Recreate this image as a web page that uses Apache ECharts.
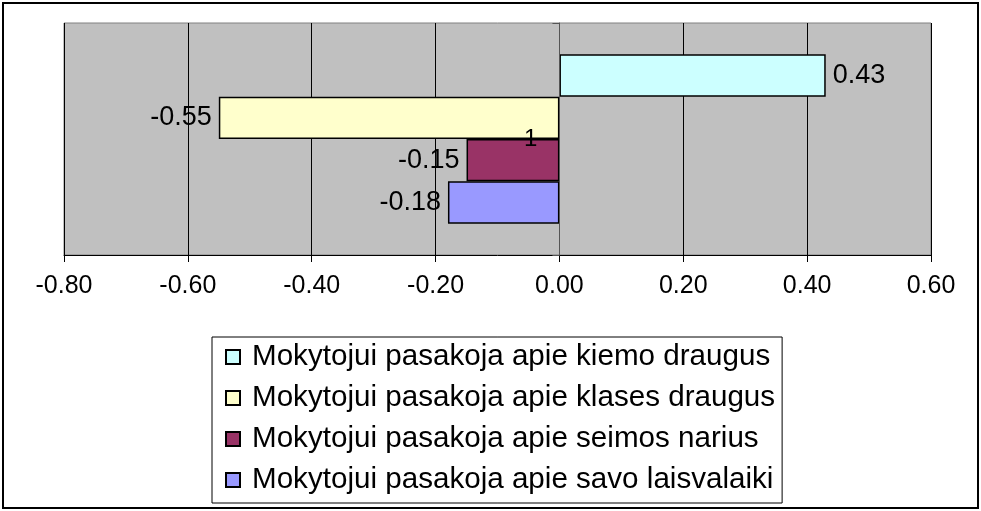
<!DOCTYPE html>
<html>
<head>
<meta charset="utf-8">
<script src="https://cdn.jsdelivr.net/npm/echarts@6/dist/echarts.min.js"></script>
<style>html,body{margin:0;padding:0;background:#fff}#c{width:981px;height:511px}</style>
</head>
<body>
<div id="c"></div>
<script>
const categories = ['1'];
const seriesNames = [
  'Mokytojui pasakoja apie kiemo draugus',
  'Mokytojui pasakoja apie klases draugus',
  'Mokytojui pasakoja apie seimos narius',
  'Mokytojui pasakoja apie savo laisvalaiki'
];
const seriesValues = [0.43, -0.55, -0.15, -0.18];
const seriesColors = ['#CCFFFF', '#FFFFCC', '#993366', '#9999FF'];
const xMin = -0.8, xMax = 0.6, xStep = 0.2;

const FONT = 'Liberation Sans, Arial, sans-serif';
const gridLeft = 64, gridRight = 50;
const plotW = 981 - gridLeft - gridRight;
const zeroOffset = -(plotW * (0 - xMin) / (xMax - xMin));

const chart = echarts.init(document.getElementById('c'), null, {renderer: 'canvas'});

const series = seriesNames.map((name, i) => ({
  name: name,
  type: 'bar',
  data: [seriesValues[i]],
  barGap: '0%',
  barCategoryGap: '27%',
  itemStyle: {color: seriesColors[i], borderColor: '#000', borderWidth: 1.5},
  label: {
    show: true,
    position: seriesValues[i] >= 0 ? 'right' : 'left',
    distance: 7,
    color: '#000',
    fontSize: 27,
    fontFamily: FONT,
    formatter: p => p.value.toFixed(2)
  },
  emphasis: {disabled: true},
  animation: false
}));

chart.setOption({
  animation: false,
  graphic: [{
    type: 'rect',
    shape: {x: 3, y: 3, width: 975, height: 505},
    style: {fill: 'none', stroke: '#000', lineWidth: 2},
    z: -10
  }],
  grid: {
    left: gridLeft, right: gridRight, top: 23, bottom: 256,
    show: true, backgroundColor: '#C0C0C0', borderColor: '#808080', borderWidth: 1
  },
  legend: {
    orient: 'vertical',
    left: 212, top: 337,
    data: seriesNames,
    itemWidth: 14, itemHeight: 14, itemGap: 11,
    padding: [5, 7, 8, 13],
    backgroundColor: '#fff',
    borderColor: '#000', borderWidth: 1,
    textStyle: {fontSize: 29.6, fontFamily: FONT, color: '#000', padding: [0, 0, 0, 7]},
    selectedMode: false,
    icon: 'rect'
  },
  xAxis: {
    type: 'value',
    min: xMin, max: xMax, interval: xStep,
    axisLine: {show: true, lineStyle: {color: '#000', width: 1}},
    axisTick: {show: true, length: 7, lineStyle: {color: '#000'}},
    splitLine: {show: true, lineStyle: {color: '#000', width: 1}},
    axisLabel: {fontSize: 25, fontFamily: FONT, color: '#000', margin: 19,
      formatter: v => v.toFixed(2)}
  },
  yAxis: {
    type: 'category',
    data: categories,
    offset: zeroOffset,
    z: 10,
    axisLine: {show: true, onZero: false, lineStyle: {color: '#555', width: 1}},
    axisTick: {show: true, length: 7, lineStyle: {color: '#555'}},
    axisLabel: {fontSize: 24, fontFamily: FONT, color: '#000', margin: 22}
  },
  series: series
});
</script>
</body>
</html>
